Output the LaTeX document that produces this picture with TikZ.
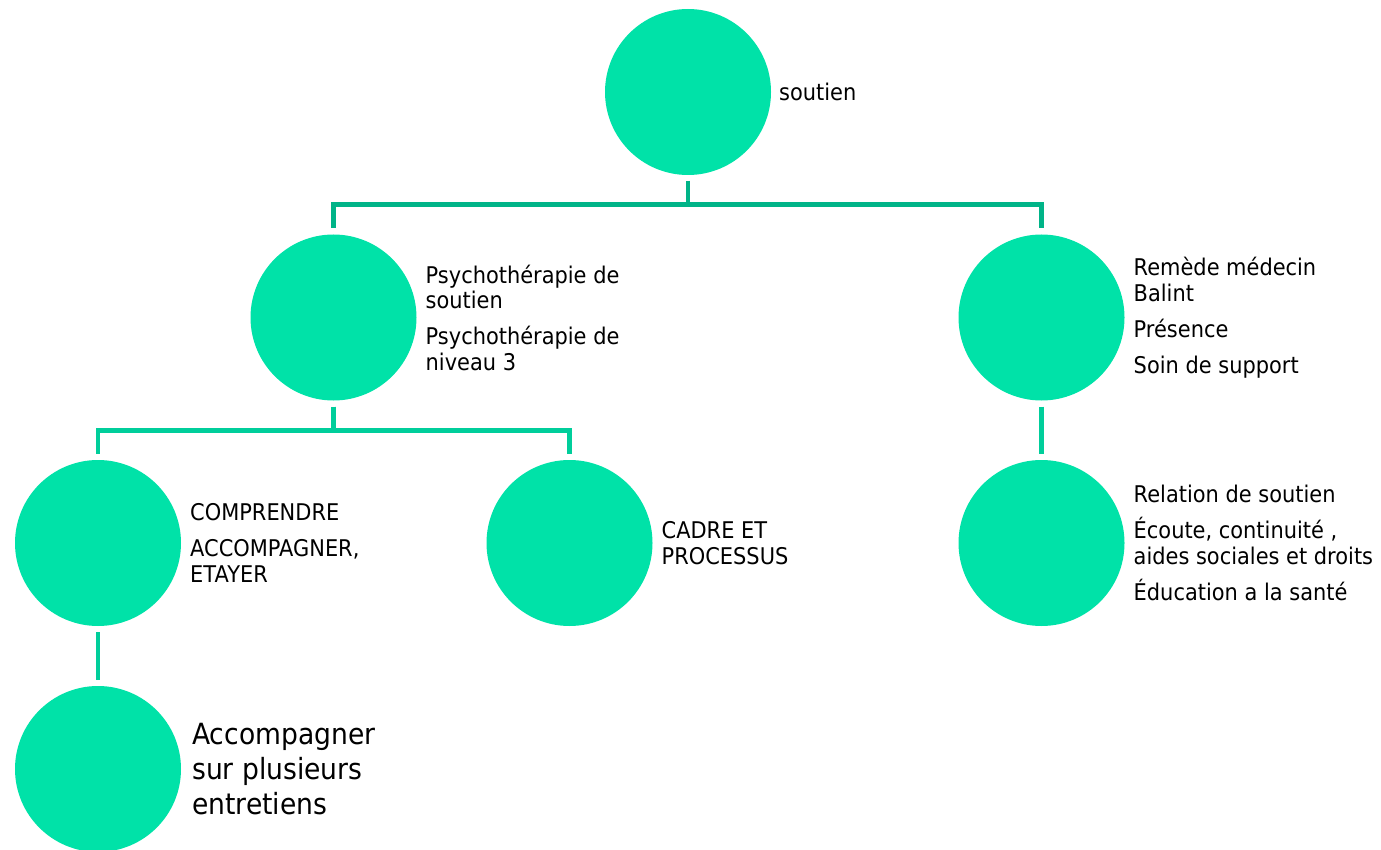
\documentclass[tikz,border=0pt]{standalone}
\usepackage{fontspec}
\setmainfont{DejaVu Sans}[FakeStretch=0.91]
\usetikzlibrary{positioning,calc}

\definecolor{bubblegreen}{RGB}{0,226,168}
\definecolor{linkdark}{RGB}{0,180,136}
\definecolor{linklight}{RGB}{0,206,155}

\begin{document}
\begin{tikzpicture}[x=1pt,y=-1pt,
    bubble/.style={circle,fill=bubblegreen,minimum size=166pt,inner sep=0pt,outer sep=6pt},
    notes/.style={align=left,inner sep=0pt,font=\fontsize{23}{25.5}\selectfont},
    bignotes/.style={align=left,inner sep=0pt,font=\fontsize{29.2}{34.7}\selectfont},
    link/.style={line width=4.5pt,linklight}]

    \useasboundingbox (0,0) rectangle (1381,850);

    \node[bubble] (soutien) at (688,92) {};
    \node[bubble] (psy) at (333.5,317.5) {};
    \node[bubble] (remede) at (1041.5,317.5) {};
    \node[bubble] (comprendre) at (98,543) {};
    \node[bubble] (cadre) at (569.5,543) {};
    \node[bubble] (relation) at (1041.5,543) {};
    \node[bubble] (accomp) at (98,769) {};

    \node[notes,right=2pt of soutien] (soutien-t) {soutien};
    \node[notes,right=3pt of psy] (psy-t) {Psychothérapie de\\soutien\\[10.5pt]Psychothérapie de\\niveau 3};
    \node[notes,right=3pt of remede] (remede-t) {Remède médecin\\Balint\\[10.5pt]Présence\\[10.5pt]Soin de support};
    \node[notes,right=3pt of comprendre] (comprendre-t) {COMPRENDRE\\[10.5pt]ACCOMPAGNER,\\ETAYER};
    \node[notes,right=3pt of cadre] (cadre-t) {CADRE ET\\PROCESSUS};
    \node[notes,right=3pt of relation] (relation-t) {Relation de soutien\\[10.5pt]Écoute, continuité ,\\aides sociales et droits\\[10.5pt]Éducation a la santé};
    \node[bignotes,right=5pt of accomp] (accomp-t) {Accompagner\\sur plusieurs\\entretiens};

    \draw[link,linkdark] (soutien.south) |- ($(soutien.south)!.5!(psy.north)$) -| (psy.north);
    \draw[link,linkdark] (soutien.south) |- ($(soutien.south)!.5!(remede.north)$) -| (remede.north);

    \draw[link] (psy.south) |- ($(psy.south)!.5!(comprendre.north)$) -| (comprendre.north);
    \draw[link] (psy.south) |- ($(psy.south)!.5!(cadre.north)$) -| (cadre.north);
    \draw[link] (remede.south) -- (relation.north);
    \draw[link] (comprendre.south) -- (accomp.north);

\end{tikzpicture}
\end{document}
